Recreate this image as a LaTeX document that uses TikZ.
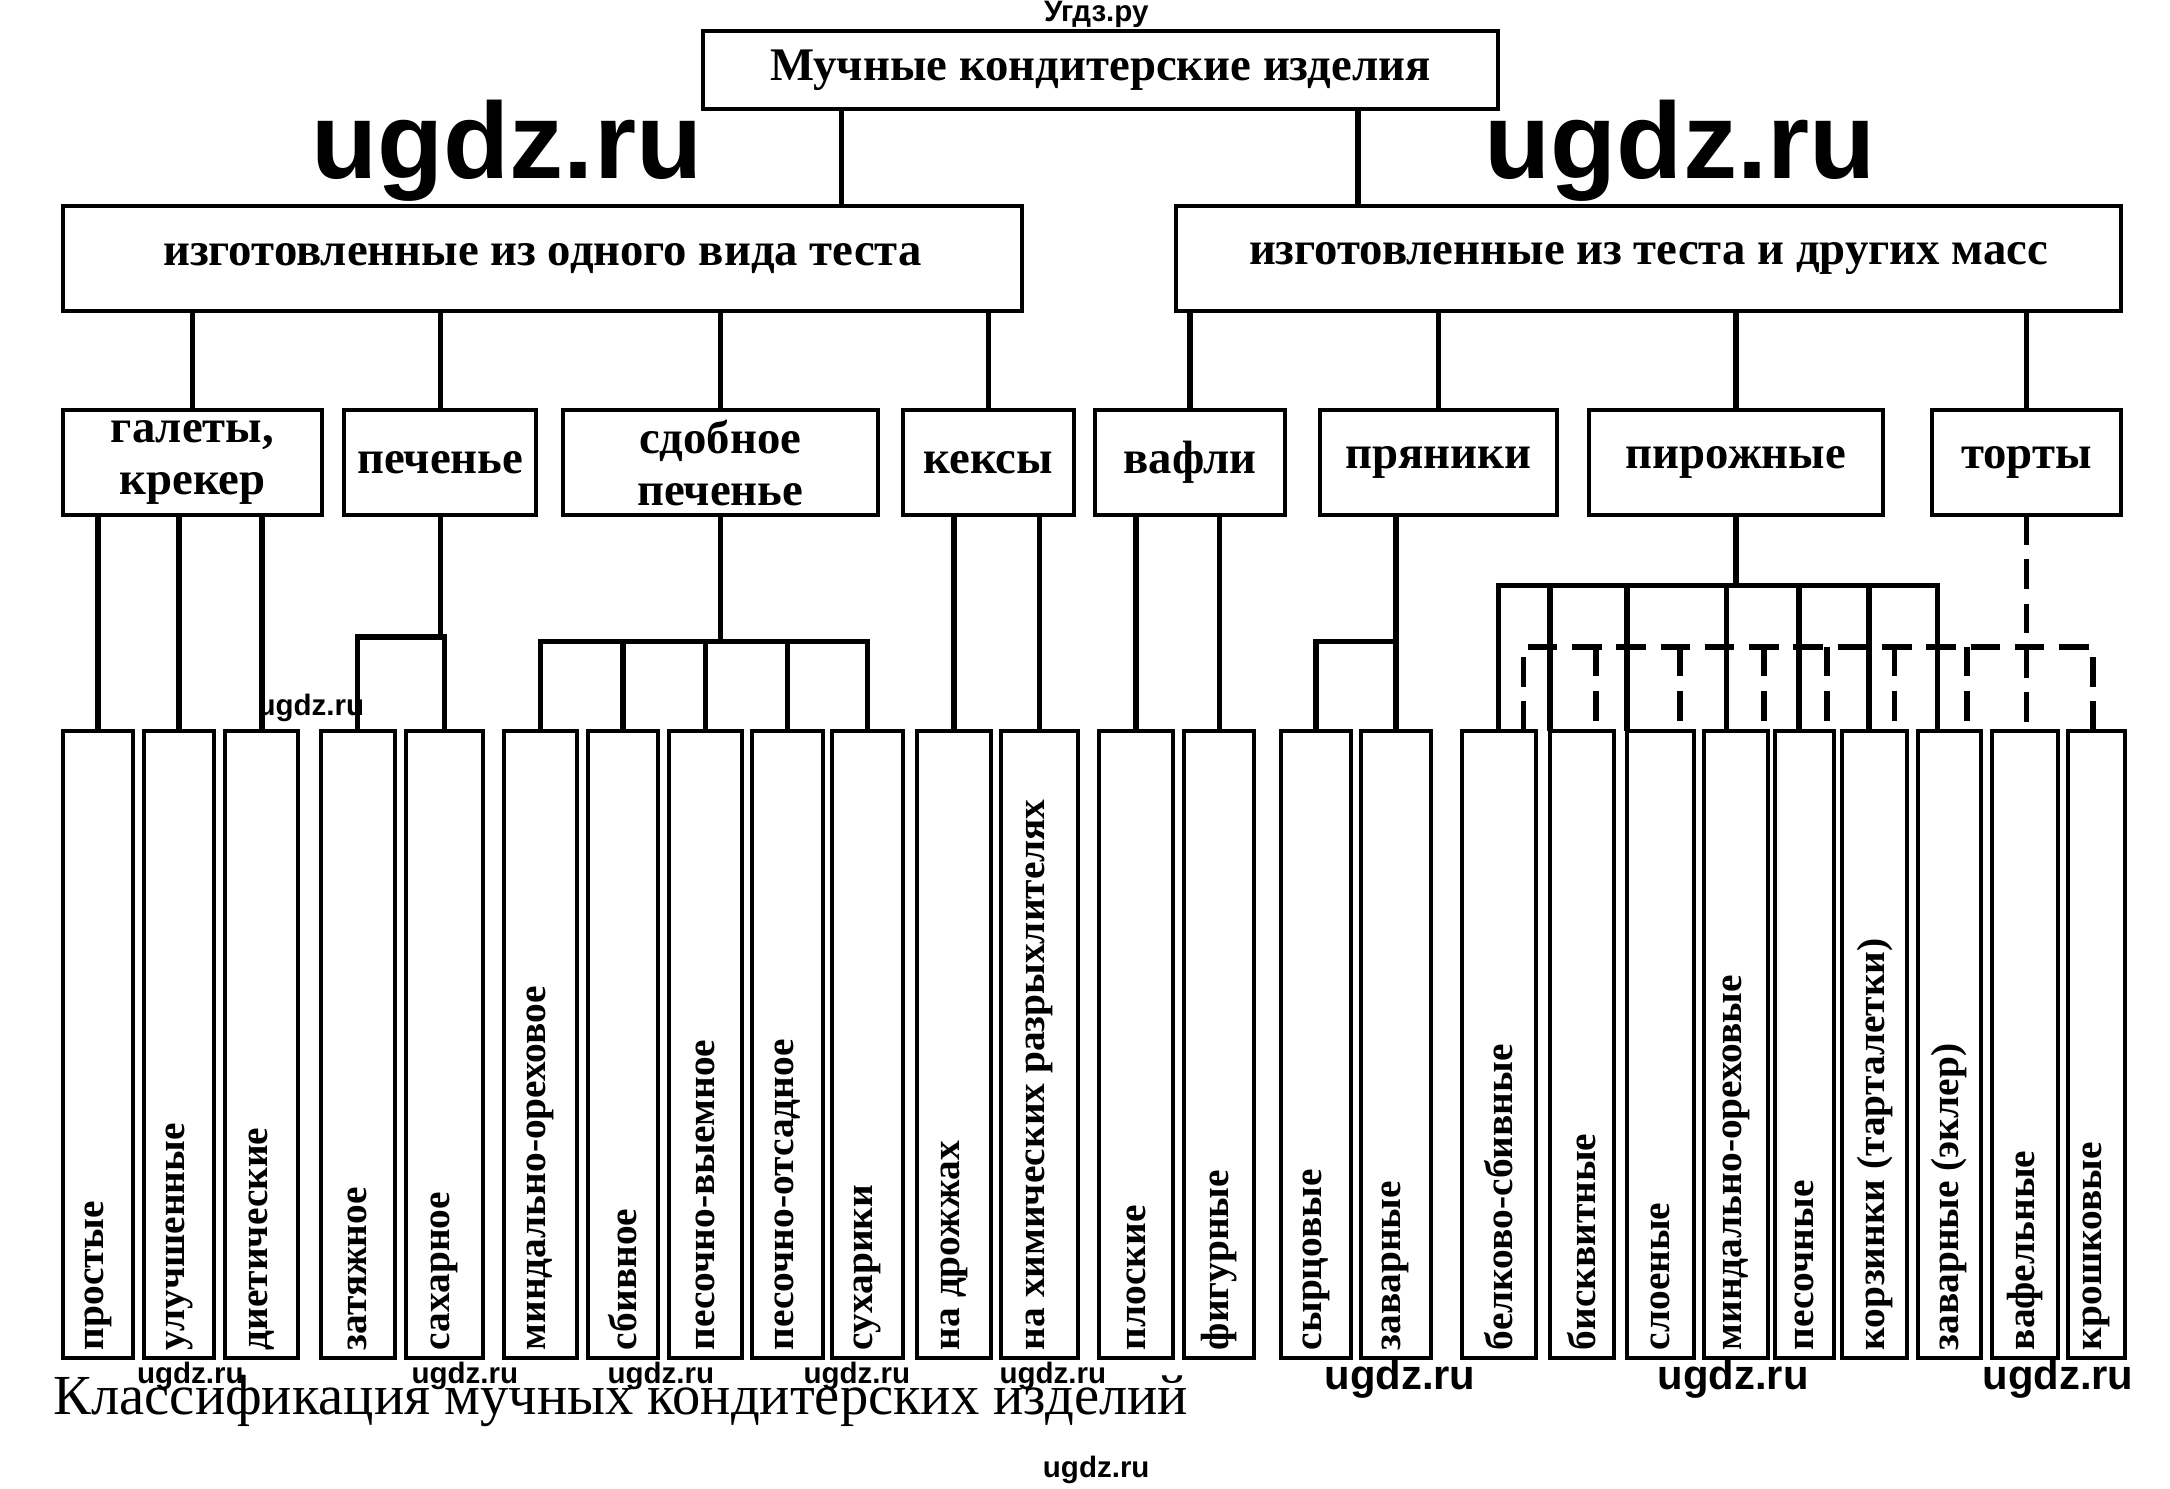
\documentclass[tikz,border=0pt]{standalone}
\usepackage{fontspec}
\setmainfont{Liberation Serif}
\newfontfamily\wmfont{Liberation Sans}
\tikzset{
  box/.style={draw,line width=1.6pt,inner sep=0pt,outer sep=0pt,align=center,
    font=\fontsize{19}{21}\selectfont\bfseries},
  leaf/.style={draw,line width=1.6pt,inner sep=0pt,outer sep=0pt},
  leaftext/.style={rotate=90,anchor=west,inner sep=3pt,
    font=\fontsize{16}{18}\selectfont\bfseries},
  link/.style={line width=2.2pt},
  dlink/.style={line width=2.2pt,dash pattern=on 12pt off 6pt},
  wmark/.style={font=\wmfont\bfseries\fontsize{12}{13}\selectfont},
  bigmark/.style={font=\wmfont\bfseries\fontsize{44}{46}\selectfont}
}
% box spanning (x1,y1)-(x2,y2)
\newcommand\boxspan[6][box]{%
  \node[#1,minimum width={(#4-#2)*0.02cm},minimum height={(#5-#3)*0.02cm}]
    (#6) at ({(#2+#4)/2},{(#3+#5)/2})}
\begin{document}
\begin{tikzpicture}[x=0.02cm,y=-0.02cm]
  \useasboundingbox (0,0) rectangle (1550,1063);
  % top and second level
  \boxspan{502}{22}{1070}{78}{top} {Мучные кондитерские изделия};
  \boxspan{45}{147}{730}{222}{one} {изготовленные из одного вида теста};
  \boxspan{840}{147}{1515}{222}{other} {изготовленные из теста и других масс};
  % third level
  \boxspan{45}{293}{230}{368}{gal} {галеты,\\крекер};
  \boxspan{246}{293}{383}{368}{pech} {печенье};
  \boxspan{402}{293}{627}{368}{sdob} {сдобное\\печенье};
  \boxspan{645}{293}{767}{368}{keks} {кексы};
  \boxspan{782}{293}{918}{368}{vafli} {вафли};
  \boxspan{943}{293}{1112}{368}{pryan} {пряники};
  \boxspan{1135}{293}{1345}{368}{pirozh} {пирожные};
  \boxspan{1380}{293}{1515}{368}{torty} {торты};
  % leaves
  \foreach \i/\xa/\xb/\txt in {
      1/45/95/простые, 2/103/153/улучшенные, 3/161/213/диетические,
      4/229/282/затяжное, 5/290/345/сахарное, 6/360/412/миндально-ореховое,
      7/420/470/сбивное, 8/478/530/песочно-выемное, 9/537/588/песочно-отсадное,
      10/594/645/сухарики, 11/655/708/на дрожжах,
      12/715/770/на химических разрыхлителях, 13/785/838/плоские,
      14/846/896/фигурные, 15/915/965/сырцовые, 16/972/1022/заварные,
      17/1044/1097/белково-сбивные, 18/1107/1153/бисквитные,
      19/1162/1210/слоеные, 20/1217/1263/миндально-ореховые,
      21/1268/1310/песочные, 22/1316/1362/корзинки (тарталетки),
      23/1370/1415/заварные (эклер), 24/1423/1470/вафельные,
      25/1477/1518/крошковые} {
    \boxspan[leaf]{\xa}{522}{\xb}{970}{l\i} {};
    \node[leaftext] at (l\i.south) {\txt};
  }
  % upper connectors
  \draw[link] (601,0 |- top.south) -- (601,0 |- one.north);
  \draw[link] (970,0 |- top.south) -- (970,0 |- other.north);
  \foreach \n in {gal,pech,sdob,keks}
    \draw[link] (one.south -| \n.north) -- (\n.north);
  \foreach \n in {vafli,pryan,pirozh,torty}
    \draw[link] (other.south -| \n.north) -- (\n.north);
  % lower connectors
  \foreach \n in {1,2,3} \draw[link] (gal.south -| l\n.north) -- (l\n.north);
  \coordinate (jp) at (pech.south |- 0,455);
  \draw[link] (pech.south) -- (jp);
  \draw[link] (l4.north) |- (jp) -| (l5.north);
  \coordinate (js) at (sdob.south |- 0,458);
  \draw[link] (sdob.south) -- (js);
  \draw[link] (l6.north) |- (l10.north |- js) -- (l10.north);
  \foreach \n in {7,8,9} \draw[link] (l\n.north |- js) -- (l\n.north);
  \foreach \n in {11,12} \draw[link] (keks.south -| l\n.north) -- (l\n.north);
  \foreach \n in {13,14} \draw[link] (vafli.south -| l\n.north) -- (l\n.north);
  \coordinate (jr) at (l16.north |- 0,458);
  \draw[link] (pryan.south -| jr) -- (l16.north);
  \draw[link] (jr) -| (l15.north);
  \coordinate (jz) at (pirozh.south |- 0,418);
  \draw[link] (pirozh.south) -- (jz);
  \draw[link] (l17.north) |- (1384,0 |- jz) -- (1384,0 |- l23.north);
  \foreach \x in {1107,1162,1233,1285,1335}
    \draw[link] (\x,0 |- jz) -- (\x,0 |- l17.north);
  \draw[dlink] (torty.south) -- (torty.south |- l24.north);
  \draw[dlink] (1088,0 |- l17.north) |- (1495,462) -- (1495,0 |- l25.north);
  \foreach \x in {1140,1200,1260,1305,1353,1405}
    \draw[dlink] (\x,462) -- (\x,0 |- l17.north);
  % caption and marks
  \node[anchor=base west,inner sep=0pt,font=\fontsize{23}{24}\selectfont] (cap)
    at (38,1010) {Классификация мучных кондитерских изделий};
  \node[bigmark] (wm1) at (362,108) {ugdz.ru};
  \node[bigmark] (wm2) at (1200,108) {ugdz.ru};
  \node[wmark] (wm3) at (783,10) {Угдз.ру};
  \node[wmark] (wm4) at (783,1050) {ugdz.ru};
  \node[wmark] (wm5) at (222,506) {ugdz.ru};
  \foreach \x in {136,332,472,612,752}
    \node[wmark] at (\x,983) {ugdz.ru};
  \foreach \x in {1000,1238,1470}
    \node[wmark,font=\wmfont\bfseries\fontsize{17}{18}\selectfont] at (\x,985) {ugdz.ru};
\end{tikzpicture}
\end{document}
